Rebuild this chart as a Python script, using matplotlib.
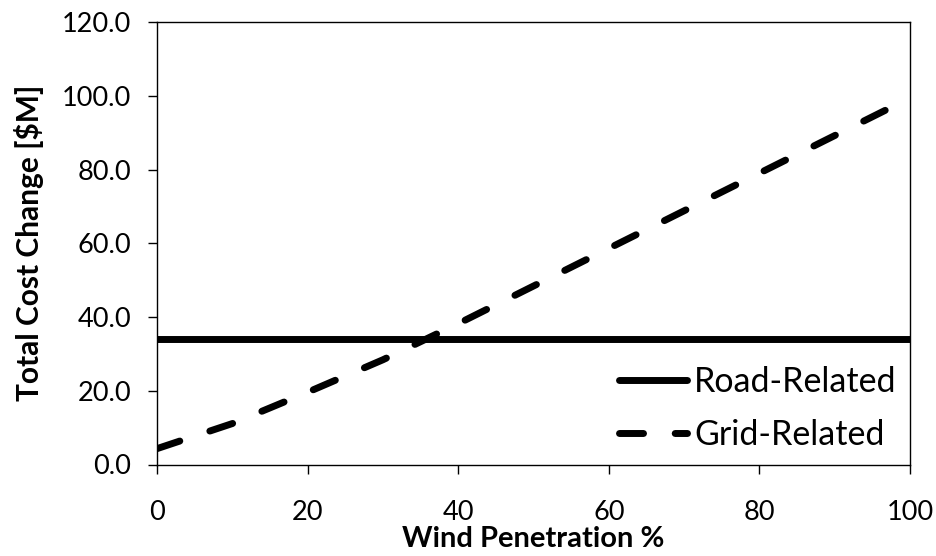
#Total cost change versus wind penetration
#Road-related cost is flat, grid-related cost grows with penetration
from matplotlib import pyplot as plt

plt.rcParams['font.family'] = ['Lato', 'DejaVu Sans']
plt.rcParams['lines.scale_dashes'] = False

#Values
wind_penetration = [0, 10, 20, 30, 40, 50, 60, 70, 80, 90, 100]
road_related = [34.0, 34.0, 34.0, 34.0, 34.0, 34.0, 34.0, 34.0, 34.0, 34.0, 34.0]
grid_related = [4.3, 11.1, 19.6, 28.4, 38.2, 48.4, 58.6, 68.8, 79.0, 89.2, 99.4]
x_ticks = [0, 20, 40, 60, 80, 100]
y_ticks = [0, 20, 40, 60, 80, 100, 120]

fig = plt.figure(figsize=(9.37, 5.56), dpi=100)
ax = fig.add_axes([157 / 937, 91.5 / 556, 753 / 937, 442.5 / 556])

ax.plot(wind_penetration, road_related, color='black', linewidth=5,
        solid_capstyle='round', label='Road-Related')
ax.plot(wind_penetration, grid_related, color='black', linewidth=5,
        dashes=(17.3, 22.8), dash_capstyle='round', label='Grid-Related')

ax.set_xlim(0, 100)
ax.set_ylim(0, 120)
ax.set_xticks(x_ticks)
ax.set_yticks(y_ticks)
ax.set_yticklabels(['%.1f' % v for v in y_ticks])

for side in ['left', 'bottom', 'right', 'top']:
    ax.spines[side].set_linewidth(1.0)
ax.tick_params(direction='out', length=6.5, width=1.0, labelsize=19.5)
ax.tick_params(axis='x', pad=19)
ax.tick_params(axis='y', pad=12)

ax.set_xlabel('Wind Penetration %', fontsize=21, fontweight='bold', labelpad=1)
ax.set_ylabel('Total Cost Change [$M]', fontsize=21.5, fontweight='bold', labelpad=13)

ax.legend(loc='lower right', bbox_to_anchor=(1.0, 0.0), frameon=False,
          fontsize=24.5, handlelength=2.0, handletextpad=0.2, labelspacing=0.62,
          borderaxespad=0.0)

fig.savefig('out.png', dpi=100)
